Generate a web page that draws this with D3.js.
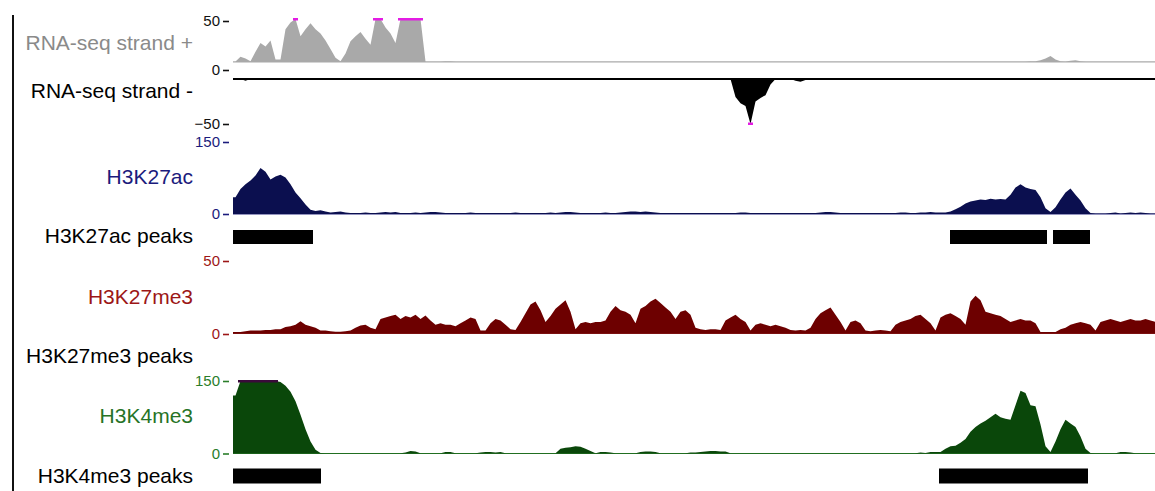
<!DOCTYPE html>
<html><head><meta charset="utf-8">
<script src="https://cdn.jsdelivr.net/npm/d3@7"></script>
<style>
body{margin:0;background:#fff}
svg{display:block}
text{font-family:"Liberation Sans",Arial,Helvetica,sans-serif}
</style>
</head><body>
<svg id="chart" width="1155" height="491"></svg>
<script>
// ---------- DATA (signal per genomic bin, 185 equal bins across the window) ----------
const N_BINS = 185;

const rnaPlus = [
  0.5, 6, 4, 1, 12, 22, 18, 25, 3, 3,
  38, 46, 55, 30, 38, 45, 38, 33, 25, 15,
  5, 1, 10, 24, 30, 35, 27, 20, 56, 56,
  40, 33, 22, 55, 58, 58, 58, 52, 0.5, 0.5,
  0.5, 0.5, 1, 1, 0.5, 0.5, 0.5, 0.5, 0.5, 0.5,
  0.5, 0.5, 0.5, 0.5, 0.5, 0.5, 0.5, 0.5, 0.5, 0.5,
  0.5, 0.5, 0.5, 0.5, 0.5, 0.5, 0.5, 0.5, 0.5, 0.5,
  0.5, 0.5, 0.5, 0.5, 0.5, 0.5, 0.5, 0.5, 0.5, 0.5,
  0.5, 0.5, 0.5, 0.5, 0.5, 0.5, 0.5, 0.5, 0.5, 0.5,
  0.5, 0.5, 0.5, 0.5, 0.5, 0.5, 0.5, 0.5, 0.5, 0.5,
  0.5, 0.5, 0.5, 0.5, 0.5, 0.5, 0.5, 0.5, 0.5, 0.5,
  0.5, 0.5, 0.5, 0.5, 0.5, 0.5, 0.5, 0.5, 0.5, 0.5,
  0.5, 0.5, 0.5, 0.5, 0.5, 0.5, 0.5, 0.5, 0.5, 0.5,
  0.5, 0.5, 0.5, 0.5, 0.5, 0.5, 0.5, 0.5, 0.5, 0.5,
  0.5, 0.5, 0.5, 0.5, 0.5, 0.5, 0.5, 0.5, 0.5, 0.5,
  0.5, 0.5, 0.5, 0.5, 0.5, 0.5, 0.5, 0.5, 0.5, 1,
  1, 2, 4, 7, 3, 1, 0.5, 1.5, 2, 1,
  0.5, 0.5, 0.5, 0.5, 0.5, 0.5, 0.5, 0.5, 0.5, 0.5,
  0.5, 0.5, 0.5, 0.5, 0.5
];

const rnaMinus = [
  0, 0, -2, 0, 0, 0, 0, 0, 0, 0,
  0, 0, 0, 0, 0, 0, 0, 0, 0, 0,
  0, 0, 0, 0, 0, 0, 0, 0, 0, 0,
  0, 0, 0, 0, 0, 0, 0, 0, 0, 0,
  0, 0, 0, 0, 0, 0, 0, 0, 0, 0,
  0, 0, 0, 0, 0, 0, 0, 0, 0, 0,
  0, 0, 0, 0, 0, 0, 0, 0, 0, 0,
  0, 0, 0, 0, 0, 0, 0, 0, -1, 0,
  0, 0, 0, 0, 0, 0, 0, 0, 0, 0,
  0, 0, 0, 0, 0, 0, 0, 0, 0, 0,
  -20, -27, -30, -52, -25, -21, -18, -6, 0, 0,
  0, 0, -2, -3, -1, 0, 0, 0, 0, 0,
  0, 0, 0, 0, 0, 0, 0, 0, 0, 0,
  0, 0, 0, 0, -1, 0, 0, 0, 0, 0,
  0, 0, 0, 0, 0, 0, 0, 0, 0, 0,
  0, 0, 0, 0, 0, 0, 0, 0, 0, 0,
  0, 0, 0, 0, 0, 0, 0, 0, -1, 0,
  0, 0, 0, 0, 0, 0, 0, 0, 0, 0,
  0, 0, 0, 0, 0
];

const h3k27ac = [
  35, 52, 62, 70, 80, 96, 88, 72, 78, 82,
  76, 62, 45, 33, 20, 9, 6, 8, 5, 3,
  4, 5, 3, 2, 2, 2, 3, 2, 2, 3,
  4, 3, 4, 2, 2, 2, 3, 2, 3, 4,
  4, 3, 2, 2, 2, 2, 2, 3, 2, 2,
  2, 2, 2, 2, 2, 2, 3, 2, 2, 2,
  2, 2, 2, 3, 2, 3, 4, 4, 3, 2,
  2, 2, 2, 2, 3, 2, 2, 3, 4, 5,
  5, 4, 5, 4, 3, 2, 2, 2, 2, 2,
  2, 2, 2, 2, 2, 2, 2, 2, 2, 2,
  2, 3, 3, 2, 2, 2, 2, 2, 2, 2,
  2, 2, 2, 2, 2, 2, 2, 3, 4, 4,
  3, 2, 2, 2, 2, 2, 2, 2, 2, 2,
  2, 2, 2, 3, 3, 2, 2, 3, 3, 4,
  3, 3, 3, 5, 10, 15, 22, 26, 28, 30,
  29, 32, 30, 31, 30, 40, 55, 62, 55, 52,
  50, 35, 12, 4, 14, 30, 45, 53, 40, 28,
  12, 2, 1, 1, 1, 2, 3, 1, 2, 3,
  2, 3, 2, 1, 1
];

const h3k27me3 = [
  1, 1, 1.5, 2, 2, 2, 2.5, 2.5, 3, 3,
  4.5, 5, 6, 8.5, 6, 5, 4, 2, 2, 1.5,
  1.2, 1.2, 1.5, 2, 4, 5.5, 6, 4, 3, 10,
  11, 12, 13, 10, 12, 11, 13, 10, 12.5, 9,
  6, 7, 6, 6, 5, 7, 9, 11, 10, 2,
  2, 7, 10, 9, 6, 3, 2.5, 8, 14, 20,
  22, 16, 8, 12, 17, 20, 23, 15, 3, 7,
  8, 7, 8, 8, 9, 15, 19, 16, 15, 13,
  7, 17, 19, 22, 24, 21, 18, 15, 10, 15,
  16, 13, 4, 3, 2.5, 3, 3, 2.5, 9, 11,
  13, 10, 8, 2, 6, 7, 6, 5, 6, 5,
  4, 2.5, 2, 2.5, 2, 4, 10, 14, 16, 18,
  13, 8, 2, 8, 9, 7, 2, 1.5, 2, 2.5,
  2, 1.5, 6, 8, 9, 10, 12, 13, 10, 7,
  2, 11, 13, 14, 12, 10, 6, 22, 26, 23,
  15, 14, 13, 12, 10, 8, 9, 10, 9, 9,
  7, 1, 1, 1, 1, 3, 4, 6, 7, 8,
  7, 6, 2, 8, 9, 10, 9, 8, 9, 10,
  9, 9, 10, 9, 8
];

const h3k4me3 = [
  120, 160, 160, 160, 160, 160, 160, 160, 160, 148,
  140, 128, 108, 80, 50, 25, 8, 1, 0.5, 0.5,
  0.5, 0.5, 0.5, 0.5, 0.5, 0.5, 0.5, 0.5, 0.5, 0.5,
  0.5, 0.5, 0.5, 0.5, 2, 5, 4, 0.5, 0.5, 0.5,
  0.5, 0.5, 3, 3, 0.5, 0.5, 0.5, 0.5, 0.5, 2,
  3, 3, 2, 3, 0.5, 0.5, 0.5, 0.5, 0.5, 0.5,
  0.5, 0.5, 0.5, 0.5, 0.5, 10, 12, 13, 15, 14,
  10, 5, 0.5, 3, 3, 2, 0.5, 0.5, 0.5, 0.5,
  0.5, 3, 4, 4, 3, 0.5, 0.5, 0.5, 0.5, 0.5,
  0.5, 2, 2, 3, 4, 5, 5, 4, 4, 0.5,
  0.5, 0.5, 0.5, 0.5, 0.5, 0.5, 0.5, 0.5, 0.5, 0.5,
  0.5, 0.5, 0.5, 0.5, 0.5, 0.5, 0.5, 0.5, 0.5, 0.5,
  0.5, 0.5, 0.5, 0.5, 0.5, 0.5, 0.5, 0.5, 0.5, 0.5,
  0.5, 0.5, 0.5, 0.5, 0.5, 0.5, 0.5, 2, 1, 3,
  3, 3, 10, 15, 16, 22, 30, 45, 55, 62,
  68, 75, 82, 75, 72, 70, 100, 130, 125, 100,
  98, 60, 15, 3, 25, 50, 70, 62, 55, 35,
  10, 1, 0.5, 0.5, 0.5, 0.5, 0.5, 3, 3, 2,
  0.5, 0.5, 0.5, 0.5, 0.5
];

// peak calls, as [start, end] in bin coordinates
const h3k27acPeakStarts = [0, 143.4, 164];
const h3k27acPeakEnds   = [16, 162.8, 171.4];
const h3k27me3PeakStarts = [];
const h3k27me3PeakEnds   = [];
const h3k4me3PeakStarts = [0, 141.2];
const h3k4me3PeakEnds   = [17.6, 171];

// track names and axis tick labels
const signalNames = ["RNA-seq strand +", "RNA-seq strand -", "H3K27ac", "H3K27me3", "H3K4me3"];
const signalTicks = [[0, 50], [-50], [0, 150], [0, 50], [0, 150]];
const peakNames = ["H3K27ac peaks", "H3K27me3 peaks", "H3K4me3 peaks"];

// ---------- LAYOUT / STYLE ----------
const W = 1155, H = 491;
const X0 = 233, X1 = 233 + 5 * N_BINS;
const svg = d3.select("#chart");

const x = d3.scaleLinear().domain([0, N_BINS]).range([X0, X1]);

const signalTracks = [
  { values: rnaPlus,  domain: [0, 50],   range: [62, 19],  axisRange: [70, 21], fill: "#a9a9a9", label: "#8a8a8a", tick: "#111", base: "#a9a9a9", baseW: 1.2, clip: "#e31ce3", labelY: 43 },
  { values: rnaMinus, domain: [-50, 0],  range: [124, 79], axisRange: [124, 79], fill: "#000000", label: "#000", tick: "#111", base: "#000", baseW: 2, clip: "#e31ce3", labelY: 91 },
  { values: h3k27ac,  domain: [0, 150],  range: [214, 142], axisRange: [214, 142], fill: "#0b0f4f", label: "#1b1b7c", tick: "#1b1b7c", base: "#2a2a80", baseW: 1.2, clip: "#e31ce3", labelY: 177 },
  { values: h3k27me3, domain: [0, 50],   range: [333.5, 261], axisRange: [334, 261], fill: "#6d0000", label: "#9c1616", tick: "#9c1616", base: "#8a2020", baseW: 1.2, clip: "#e31ce3", labelY: 297 },
  { values: h3k4me3,  domain: [0, 150],  range: [453.5, 381], axisRange: [453.5, 381], fill: "#0a470a", label: "#267326", tick: "#2a7d2a", base: "#2a7d2a", baseW: 1.2, clip: "#3a0a3a", labelY: 416 }
];

const peakTracks = [
  { starts: h3k27acPeakStarts, ends: h3k27acPeakEnds, y: 230, h: 14, labelY: 236 },
  { starts: h3k27me3PeakStarts, ends: h3k27me3PeakEnds, y: 350, h: 14, labelY: 356 },
  { starts: h3k4me3PeakStarts, ends: h3k4me3PeakEnds, y: 468.5, h: 15, labelY: 476 }
];

// left frame line
svg.append("line").attr("x1", 13).attr("x2", 13).attr("y1", 15).attr("y2", H)
  .attr("stroke", "#111").attr("stroke-width", 2);

const plot = svg.append("g");
svg.append("clipPath").attr("id", "plotclip").append("rect")
  .attr("x", X0).attr("y", 0).attr("width", W - X0).attr("height", H);
plot.attr("clip-path", "url(#plotclip)");

signalTracks.forEach((t, k) => {
  const y = d3.scaleLinear().domain(t.domain).range(t.range);
  const lo = t.domain[0], hi = t.domain[1];
  const n = t.values.length;
  // points at bin centres, plus the window edges
  const pts = [[0, t.values[0]]]
    .concat(t.values.map((v, i) => [i + 0.5, v]))
    .concat([[n, t.values[n - 1]]]);
  const clampV = v => Math.max(lo, Math.min(hi, v));

  // baseline
  plot.append("line").attr("x1", X0).attr("x2", W).attr("y1", y(0)).attr("y2", y(0))
    .attr("stroke", t.base).attr("stroke-width", t.baseW);

  const area = d3.area()
    .curve(d3.curveLinear)
    .x(d => x(d[0]))
    .y0(() => y(0))
    .y1(d => y(clampV(d[1])));
  plot.append("path").datum(pts).attr("d", area).attr("fill", t.fill);

  // clipped-value indicator
  plot.selectAll(null).data(t.values.map((v, i) => [i, v]).filter(d => d[1] > hi || d[1] < lo))
    .enter().append("rect")
    .attr("x", d => x(d[0])).attr("width", d => x(d[0] + 1) - x(d[0]))
    .attr("y", d => (d[1] > hi ? y(hi) - 1 : y(lo) - 1.5)).attr("height", 2.5)
    .attr("fill", t.clip);

  // axis
  const ay = d3.scaleLinear().domain(t.domain).range(t.axisRange);
  const axis = d3.axisLeft(ay).tickValues(signalTicks[k]).tickSize(6).tickPadding(3).tickFormat(d3.format("d"));
  const g = svg.append("g").attr("transform", `translate(229,0)`).call(axis);
  g.select(".domain").remove();
  g.selectAll(".tick line").attr("stroke", t.tick).attr("stroke-width", 1.6);
  g.selectAll(".tick text").attr("fill", t.tick).style("font-size", "15px")
    .style("font-family", '"Liberation Sans",Arial,sans-serif');

  // label
  svg.append("text").attr("x", 193).attr("y", t.labelY).attr("dy", "0.35em")
    .attr("text-anchor", "end").attr("fill", t.label).style("font-size", "21px")
    .text(signalNames[k]);
});

peakTracks.forEach((p, k) => {
  plot.selectAll(null).data(p.starts.map((s, i) => [s, p.ends[i]])).enter().append("rect")
    .attr("x", d => x(d[0])).attr("width", d => x(d[1]) - x(d[0]))
    .attr("y", p.y).attr("height", p.h).attr("fill", "#000");
  svg.append("text").attr("x", 193).attr("y", p.labelY).attr("dy", "0.35em")
    .attr("text-anchor", "end").attr("fill", "#000").style("font-size", "21px")
    .text(peakNames[k]);
});
</script>
</body></html>
